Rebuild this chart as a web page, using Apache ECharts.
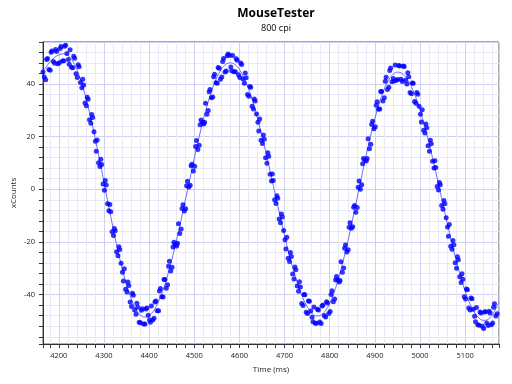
<!DOCTYPE html>
<html><head><meta charset="utf-8">
<script src="https://cdn.jsdelivr.net/npm/echarts@6/dist/echarts.min.js"></script>
<style>html,body{margin:0;padding:0;background:#fff}#c{width:512px;height:384px}</style>
</head><body><div id="c"></div>
<script>
// Raw samples, stream A (time in ms, xCounts)
const sampleTimesA = [4165,4171,4175,4181,4185,4191,4195,4201,4205,4211,4215,4221,4225,4231,4235,4241,4245,4251,4255,4261,4265,4271,4275,4281,4285,4291,4295,4301,4305,4311,4315,4321,4325,4331,4335,4341,4345,4351,4355,4361,4365,4371,4375,4381,4385,4391,4395,4401,4405,4411,4415,4421,4425,4431,4435,4441,4445,4451,4455,4461,4465,4471,4475,4481,4485,4491,4495,4501,4505,4511,4515,4521,4525,4531,4535,4541,4545,4551,4555,4561,4565,4571,4575,4581,4585,4591,4595,4601,4605,4611,4615,4621,4625,4631,4635,4641,4645,4651,4655,4661,4665,4671,4675,4681,4685,4691,4695,4701,4705,4711,4715,4721,4725,4731,4735,4741,4745,4751,4755,4761,4765,4771,4775,4781,4785,4791,4795,4801,4805,4811,4815,4821,4825,4831,4835,4841,4845,4851,4855,4861,4865,4871,4875,4881,4885,4891,4895,4901,4905,4911,4915,4921,4925,4931,4935,4941,4945,4951,4955,4961,4965,4971,4975,4981,4985,4991,4995,5001,5005,5011,5015,5021,5025,5031,5035,5041,5045,5051,5055,5061,5065,5071,5075,5081,5085,5091,5095,5101,5105,5111,5115,5121,5125,5131,5135,5141,5145,5151,5155,5161,5165,5171];
const sampleCountsA = [44.5,41.6,49.6,45.2,52.5,47.8,52.3,48.0,54.2,48.8,
54.7,49.3,53.0,46.1,49.7,42.4,46.5,38.5,39.6,31.7,
34.2,25.1,27.2,18.2,18.7,8.6,9.4,-0.4,1.6,-8.2,
-8.5,-17.6,-15.8,-25.2,-22.9,-31.5,-30.2,-39.0,-36.5,-44.5,
-40.2,-47.5,-44.8,-50.7,-45.4,-51.2,-45.1,-49.6,-44.3,-49.0,
-42.4,-46.1,-37.7,-40.9,-34.3,-36.3,-27.3,-29.6,-20.1,-21.5,
-13.1,-15.1,-5.9,-7.4,3.0,1.5,9.5,8.7,18.5,16.7,
26.3,24.8,32.6,29.9,37.9,35.0,43.7,40.2,45.9,42.6,
49.6,44.9,51.3,46.4,50.8,44.6,49.0,42.4,47.4,40.2,
42.3,35.3,38.7,30.5,33.5,25.4,26.7,17.4,19.0,9.9,
12.5,3.1,3.3,-5.4,-3.4,-12.7,-10.5,-19.2,-18.2,-27.4,
-25.5,-34.1,-30.6,-38.7,-37.1,-44.1,-40.1,-47.2,-42.5,-48.6,
-44.7,-50.9,-45.8,-51.0,-43.9,-48.5,-43.2,-46.4,-38.5,-41.7,
-33.1,-35.2,-27.5,-29.9,-21.2,-23.0,-12.7,-14.2,-6.2,-6.9,
3.1,1.7,11.7,10.7,19.2,17.1,25.8,23.7,33.2,30.5,
37.1,34.7,42.5,38.7,46.0,42.0,47.2,41.7,46.8,40.9,
46.6,40.0,42.7,36.3,40.2,32.6,36.1,28.5,30.2,21.4,
23.3,14.4,17.3,8.1,8.3,-0.3,1.7,-7.6,-5.5,-14.3,
-13.4,-22.8,-21.1,-30.0,-26.8,-35.4,-34.2,-41.7,-38.2,-45.8,
-41.6,-48.2,-44.9,-51.6,-47.0,-52.9,-46.5,-51.7,-47.0,-50.8,
-43.5,-47.3];
// Raw samples, stream B
const sampleTimesB = [4168,4173,4178,4183,4188,4193,4198,4203,4208,4213,4218,4223,4228,4233,4238,4243,4248,4253,4258,4263,4268,4273,4278,4283,4288,4293,4298,4303,4308,4313,4318,4323,4328,4333,4338,4343,4348,4353,4358,4363,4368,4373,4378,4383,4388,4393,4398,4403,4408,4413,4418,4423,4428,4433,4438,4443,4448,4453,4458,4463,4468,4473,4478,4483,4488,4493,4498,4503,4508,4513,4518,4523,4528,4533,4538,4543,4548,4553,4558,4563,4568,4573,4578,4583,4588,4593,4598,4603,4608,4613,4618,4623,4628,4633,4638,4643,4648,4653,4658,4663,4668,4673,4678,4683,4688,4693,4698,4703,4708,4713,4718,4723,4728,4733,4738,4743,4748,4753,4758,4763,4768,4773,4778,4783,4788,4793,4798,4803,4808,4813,4818,4823,4828,4833,4838,4843,4848,4853,4858,4863,4868,4873,4878,4883,4888,4893,4898,4903,4908,4913,4918,4923,4928,4933,4938,4943,4948,4953,4958,4963,4968,4973,4978,4983,4988,4993,4998,5003,5008,5013,5018,5023,5028,5033,5038,5043,5048,5053,5058,5063,5068,5073,5078,5083,5088,5093,5098,5103,5108,5113,5118,5123,5128,5133,5138,5143,5148,5153,5158,5163,5168];
const sampleCountsB = [42.6,49.3,45.5,52.0,48.5,53.1,47.6,53.4,48.7,54.3,
51.5,47.5,46.3,50.5,43.8,47.3,40.5,41.8,32.7,34.9,
26.4,28.4,21.8,14.4,10.1,11.4,2.0,3.3,-5.5,-5.8,
-16.1,-14.9,-23.7,-21.8,-28.1,-34.8,-38.0,-35.2,-42.8,-39.5,
-45.8,-43.3,-50.5,-45.9,-51.2,-45.5,-47.8,-50.5,-49.6,-42.8,
-46.1,-38.6,-40.8,-34.3,-37.6,-29.2,-31.0,-21.9,-20.9,-20.5,
-16.8,-7.3,-8.3,1.3,0.9,8.9,6.9,16.2,15.1,24.5,
25.4,25.4,28.5,37.0,34.7,42.7,40.4,46.2,41.8,48.5,
44.5,50.7,50.9,45.0,44.6,49.5,43.5,47.9,41.9,44.1,
36.0,39.0,31.5,34.3,28.6,22.1,18.6,20.6,12.0,13.9,
5.7,5.8,-4.0,-2.5,-11.3,-9.4,-15.7,-22.7,-26.2,-24.0,
-32.2,-29.5,-36.7,-35.1,-43.4,-40.0,-46.7,-42.4,-46.2,-50.3,
-50.9,-45.6,-50.4,-44.3,-47.9,-42.7,-47.2,-40.0,-42.7,-34.5,
-34.4,-34.6,-31.5,-22.4,-23.8,-14.4,-14.8,-6.8,-8.7,0.8,
0.0,9.7,11.1,11.7,15.4,24.6,23.0,31.9,30.4,37.1,
33.5,41.0,37.9,45.1,40.8,41.1,41.4,47.0,41.8,46.8,
41.4,44.2,36.7,40.3,33.3,36.7,31.5,25.5,22.4,24.8,
16.5,18.6,10.6,10.8,1.0,2.6,-6.2,-4.3,-10.8,-17.8,
-21.6,-19.5,-27.9,-25.6,-33.2,-32.1,-40.8,-37.9,-45.1,-41.3,
-45.6,-50.3,-51.4,-46.6,-52.0,-46.6,-50.8,-46.3,-51.4,-44.8,
-48.1];
// Smoothed trace
const avgTimes = [4165,4170,4180,4190,4200,4210,4220,4230,4240,4250,4260,4270,4280,4290,4300,4310,4320,4330,4340,4350,4360,4370,4380,4390,4400,4410,4420,4430,4440,4450,4460,4470,4480,4490,4500,4510,4520,4530,4540,4550,4560,4570,4580,4590,4600,4610,4620,4630,4640,4650,4660,4670,4680,4690,4700,4710,4720,4730,4740,4750,4760,4770,4780,4790,4800,4810,4820,4830,4840,4850,4860,4870,4880,4890,4900,4910,4920,4930,4940,4950,4960,4970,4980,4990,5000,5010,5020,5030,5040,5050,5060,5070,5080,5090,5100,5110,5120,5130,5140,5150,5160,5170,5175];
const avgCounts = [45.0,46.0,48.3,50.0,51.0,51.4,50.9,48.9,45.5,40.7,34.7,27.7,19.8,11.4,2.7,-6.0,-14.6,-22.6,-29.9,-36.2,-41.4,-45.3,-47.7,-48.6,-48.0,-46.2,-43.0,-38.7,-33.3,-27.0,-19.9,-12.3,-4.3,3.7,11.7,19.3,26.4,32.7,38.1,42.4,45.6,47.5,48.0,47.4,45.5,42.4,38.3,33.1,27.0,20.2,13.0,5.3,-2.4,-10.1,-17.6,-24.6,-31.0,-36.5,-41.1,-44.6,-47.0,-48.1,-47.9,-46.3,-43.4,-39.1,-33.6,-27.1,-19.9,-12.0,-3.9,4.3,12.3,19.9,26.8,32.7,37.7,41.3,43.6,44.5,44.0,42.2,39.3,35.2,30.1,24.2,17.5,10.3,2.7,-5.0,-12.7,-20.0,-26.9,-33.2,-38.7,-43.2,-46.6,-48.8,-49.8,-49.5,-47.8,-44.7,-43.0];
const xTickLabels = [4200,4300,4400,4500,4600,4700,4800,4900,5000,5100];
const yTickLabels = [-40,-20,0,20,40];

const samples = sampleTimesA.map((t, i) => [t, sampleCountsA[i]])
  .concat(sampleTimesB.map((t, i) => [t, sampleCountsB[i]]));
const avg = avgTimes.map((t, i) => [t, avgCounts[i]]);

const FONT = 'Open Sans';
const minorColor = '#e8e8f8';
const majorColor = '#cfcff1';
const axisColor = '#333333';

const chart = echarts.init(document.getElementById('c'), null, {renderer: 'canvas'});
chart.setOption({
  animation: false,
  title: {
    text: 'MouseTester', subtext: '800 cpi',
    left: 271, top: 3, textAlign: 'center', itemGap: 4,
    textStyle: {fontFamily: FONT, fontSize: 12, fontWeight: 'bold', color: '#000'},
    subtextStyle: {fontFamily: FONT, fontSize: 9, color: '#000'}
  },
  grid: {left: 43, right: 13, top: 42, bottom: 40, show: true, borderColor: '#555', borderWidth: 1,
         backgroundColor: 'transparent', containLabel: false, outerBoundsMode: 'none'},
  xAxis: [
    {type: 'value', min: 4165, max: 5175, splitNumber: 50, position: 'bottom',
     axisLine: {show: true, onZero: false, lineStyle: {color: axisColor}},
     axisTick: {show: true, length: 4, lineStyle: {color: axisColor}},
     axisLabel: {show: false},
     splitLine: {show: true, lineStyle: {color: minorColor, width: 1}}},
    {type: 'value', min: 4165, max: 5175, splitNumber: 10, position: 'bottom', offset: 0,
     axisLine: {show: false, onZero: false}, axisTick: {show: false},
     axisLabel: {show: true, margin: 8, fontFamily: FONT, fontSize: 7.5, color: '#222',
                 formatter: v => xTickLabels.includes(v) ? String(v) : ''},
     splitLine: {show: true, lineStyle: {color: majorColor, width: 1}},
     name: 'Time (ms)', nameLocation: 'middle', nameGap: 22, nameMoveOverlap: false,
     nameTextStyle: {fontFamily: FONT, fontSize: 8, color: '#222'}}
  ],
  yAxis: [
    {type: 'value', min: -58.75, max: 55.9, splitNumber: 6, position: 'left',
     axisLine: {show: true, onZero: false, lineStyle: {color: axisColor}},
     axisTick: {show: true, length: 4, lineStyle: {color: axisColor}},
     minorTick: {show: true, splitNumber: 5, length: 4, lineStyle: {color: axisColor}},
     axisLabel: {show: true, margin: 8, fontFamily: FONT, fontSize: 7.5, color: '#222',
                 formatter: v => yTickLabels.includes(v) ? String(v) : ''},
     splitLine: {show: true, lineStyle: {color: majorColor, width: 1}},
     minorSplitLine: {show: true, lineStyle: {color: minorColor, width: 1}},
     name: 'xCounts', nameLocation: 'middle', nameGap: 25, nameMoveOverlap: false,
     nameTextStyle: {fontFamily: FONT, fontSize: 8, color: '#222'}}
  ],
  series: [
    {type: 'line', data: avg, xAxisIndex: 0, yAxisIndex: 0, symbol: 'none', smooth: 0.3,
     lineStyle: {color: '#6b6bff', width: 1}, z: 2},
    {type: 'scatter', data: samples, xAxisIndex: 0, yAxisIndex: 0, symbol: 'circle', symbolSize: 5,
     itemStyle: {color: '#0000ff'}, z: 3}
  ]
});
</script></body></html>
